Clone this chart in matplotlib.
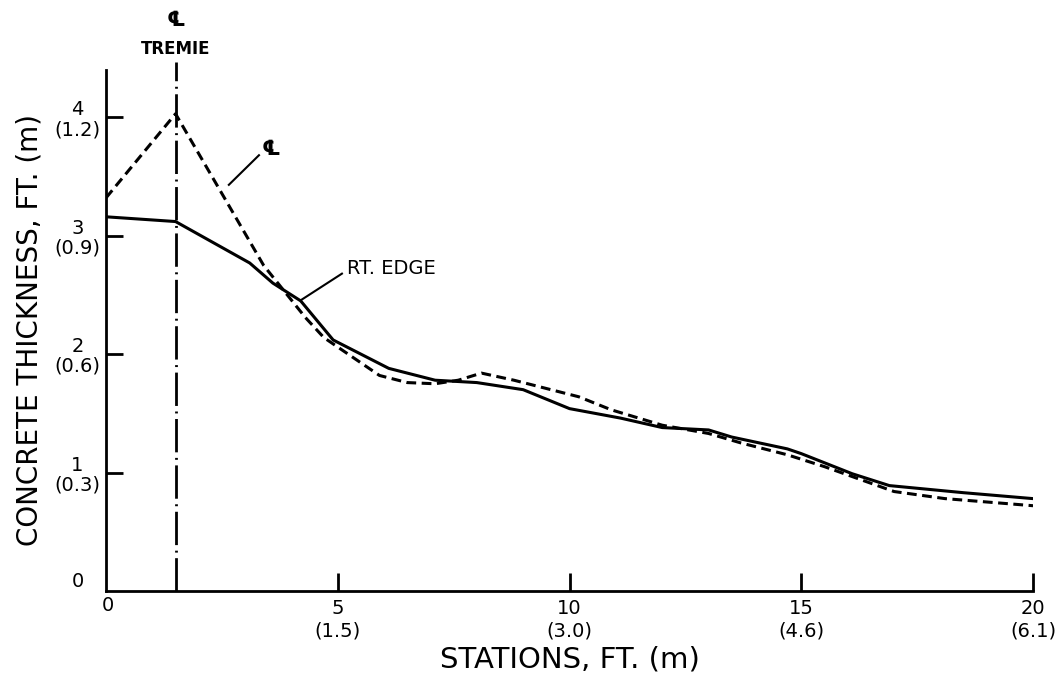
import matplotlib
matplotlib.use('Agg')
import matplotlib.pyplot as plt

# stations (ft) and concrete thickness (ft)
edge_x = [0, 1.5, 3.1, 3.6, 4.2, 4.9, 6.1, 7.1, 8.0, 9.0, 10.0, 11.1, 12.0, 13.0, 13.5, 14.7, 15.0, 16.1, 16.9, 18.5, 20]
edge_y = [3.16, 3.12, 2.77, 2.60, 2.45, 2.12, 1.88, 1.78, 1.76, 1.70, 1.54, 1.46, 1.38, 1.36, 1.30, 1.20, 1.16, 0.99, 0.89, 0.83, 0.78]

cl_x = [0, 1.5, 3.4, 4.3, 4.7, 5.9, 6.5, 7.1, 7.6, 8.1, 8.8, 9.6, 10.2, 10.9, 12.0, 13.0, 13.7, 14.7, 15.5, 17.0, 18.1, 20]
cl_y = [3.32, 4.03, 2.75, 2.31, 2.14, 1.82, 1.76, 1.75, 1.78, 1.84, 1.78, 1.70, 1.64, 1.53, 1.40, 1.33, 1.25, 1.15, 1.05, 0.84, 0.78, 0.72]

tremie_x = 1.5

x_ticks = [5, 10, 15, 20]
x_labels = ['5\n(1.5)', '10\n(3.0)', '15\n(4.6)', '20\n(6.1)']
y_ticks = [1, 2, 3, 4]
y_labels = ['1\n(0.3)', '2\n(0.6)', '3\n(0.9)', '4\n(1.2)']

plt.rcParams['font.family'] = ['DejaVu Sans']

fig = plt.figure(figsize=(10.58, 6.84), dpi=100)
ax = fig.add_axes([0.1002, 0.136, 0.8762, 0.7617])

ax.plot(edge_x, edge_y, color='black', lw=2.2, solid_joinstyle='round')
ax.plot(cl_x, cl_y, color='black', lw=2.2, dashes=(3.2, 1.8))

# tremie centre line
ax.plot([tremie_x, tremie_x], [0, 4.47], color='black', lw=2,
        dashes=(12, 2, 0.7, 2), clip_on=False)
ax.text(tremie_x, 4.58, 'TREMIE', ha='center', va='center', fontsize=12, fontweight='bold')
ax.text(tremie_x, 4.82, '℄', ha='center', va='center', fontsize=15, fontweight='bold')

# labels with leader lines
ax.plot([2.65, 3.3], [3.43, 3.68], color='black', lw=1.5)
ax.text(3.35, 3.73, '℄', ha='left', va='center', fontsize=15, fontweight='bold')
ax.plot([4.22, 5.09], [2.46, 2.68], color='black', lw=1.5)
ax.text(5.19, 2.72, 'RT. EDGE', ha='left', va='center', fontsize=14)

ax.set_xlim(0, 20)
ax.set_ylim(0, 4.4)
for s in ['top', 'right']:
    ax.spines[s].set_visible(False)
for s in ['left', 'bottom']:
    ax.spines[s].set_linewidth(2)

ax.set_xticks(x_ticks)
ax.set_xticklabels(x_labels, fontsize=14, linespacing=1.2)
ax.set_yticks(y_ticks)
ax.set_yticklabels(y_labels, fontsize=14, linespacing=1.05, multialignment='center')
ax.tick_params(axis='x', direction='in', length=13, width=2, pad=6)
ax.tick_params(axis='y', direction='in', length=12, width=2, pad=4)

ax.text(-0.6, 0.08, '0', ha='center', va='center', fontsize=14)
ax.text(0.05, -0.12, '0', ha='center', va='center', fontsize=14)

ax.set_xlabel('STATIONS, FT. (m)', fontsize=21, labelpad=4)
ax.set_ylabel('CONCRETE THICKNESS, FT. (m)', fontsize=20, labelpad=8)

fig.savefig('out.png', dpi=100)
